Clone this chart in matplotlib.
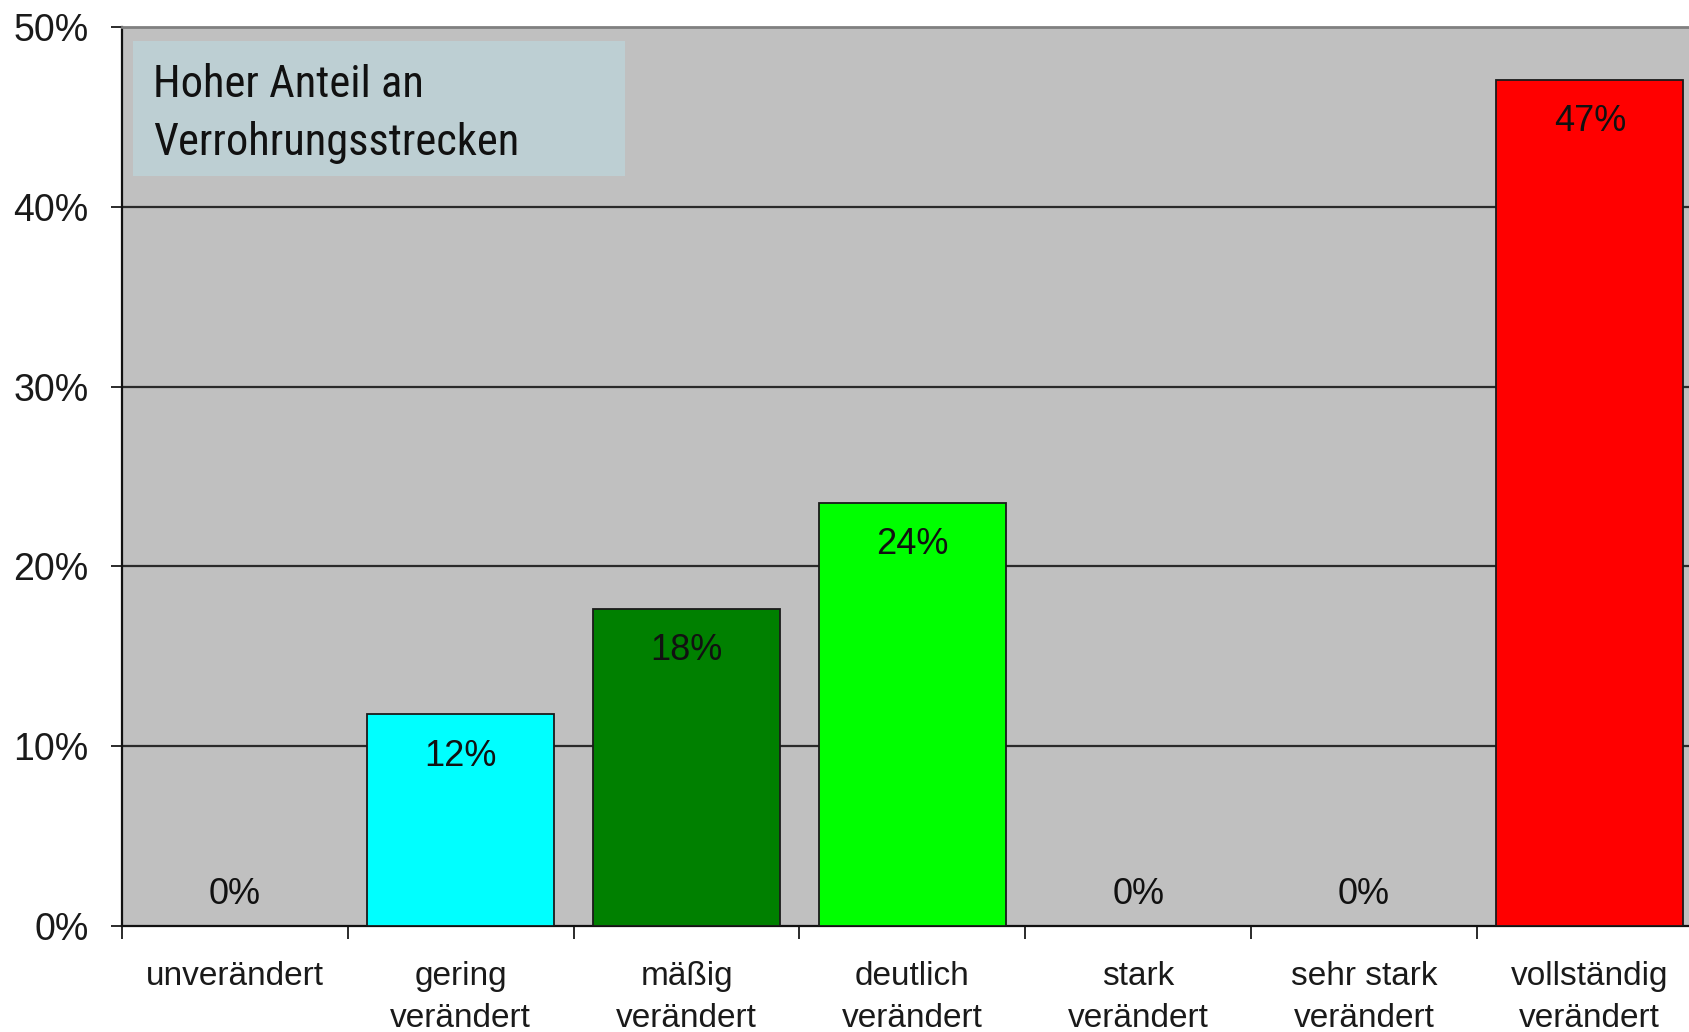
import matplotlib
matplotlib.use("Agg")
import matplotlib.pyplot as plt
from matplotlib.patches import Rectangle

# Verteilung der Strukturklassen (Anzahl Abschnitte)
categories = ["unverändert", "gering\nverändert", "mäßig\nverändert", "deutlich\nverändert",
              "stark\nverändert", "sehr stark\nverändert", "vollständig\nverändert"]
counts = [0, 2, 3, 4, 0, 0, 8]
total = 17
colors = ["#C0C0C0", "#00FFFF", "#008000", "#00FF00", "#C0C0C0", "#C0C0C0", "#FF0000"]
yticks = [0, 10, 20, 30, 40, 50]

shares = [100.0 * c / total for c in counts]

plt.rcParams["font.family"] = ["Liberation Sans", "DejaVu Sans"]

fig = plt.figure(figsize=(16.9, 10.32), dpi=100)
fig.patch.set_facecolor("white")
ax = fig.add_axes([0.0722, 0.1027, 0.9353, 0.8711])
ax.set_facecolor("#C0C0C0")

x = list(range(len(categories)))
bars = ax.bar(x, shares, width=0.83, color=colors, edgecolor="#1a1a1a", linewidth=1.3, zorder=3)
for b, s in zip(bars, shares):
    if s == 0:
        b.set_visible(False)

# Beschriftung der Balken
for xi, s in zip(x, shares):
    label = "%d%%" % round(s)
    if s > 0:
        ax.annotate(label, (xi, s), xytext=(0, -30), textcoords="offset points",
                    ha="center", va="center", fontsize=26, color="#111111", zorder=4)
    else:
        ax.annotate(label, (xi, 0), xytext=(0, 23), textcoords="offset points",
                    ha="center", va="center", fontsize=26, color="#111111", zorder=4)

ax.set_xlim(-0.5, len(categories) - 0.5)
ax.set_ylim(0, 50)

ax.set_yticks(yticks)
ax.set_yticklabels(["%d%%" % t for t in yticks], fontsize=27, color="#1a1a1a")
ax.tick_params(axis="y", direction="out", length=8, width=1.3, pad=16, color="#1a1a1a")
for t in yticks[1:-1]:
    ax.axhline(t, color="#2a2a2a", linewidth=1.6, zorder=1)

ax.set_xticks(x)
ax.set_xticklabels(categories, fontsize=24, color="#1a1a1a", linespacing=1.45)
ax.tick_params(axis="x", which="major", length=0, pad=25)
ax.set_xticks([i - 0.5 for i in x], minor=True)
ax.tick_params(axis="x", which="minor", direction="out", length=9, width=1.3, color="#1a1a1a")

ax.spines["left"].set_color("#111111")
ax.spines["left"].set_linewidth(1.6)
ax.spines["bottom"].set_color("#111111")
ax.spines["bottom"].set_linewidth(1.6)
ax.spines["top"].set_color("#808080")
ax.spines["top"].set_linewidth(2.0)
ax.spines["right"].set_visible(False)

# Hinweiskasten oben links
fig.patches.append(Rectangle((0.0787, 0.8295), 0.2911, 0.1308, transform=fig.transFigure,
                             facecolor="#BDCFD3", edgecolor="none", zorder=5))
narrow = ["Roboto Condensed", "Liberation Sans"]
fig.text(0.0905, 0.9176, "Hoher Anteil an", family=narrow, fontsize=32,
         ha="left", va="center", color="#111111", zorder=6)
fig.text(0.0905, 0.8623, "Verrohrungsstrecken", family=narrow, fontsize=32,
         ha="left", va="center", color="#111111", zorder=6)

fig.savefig("out.png", dpi=100)
